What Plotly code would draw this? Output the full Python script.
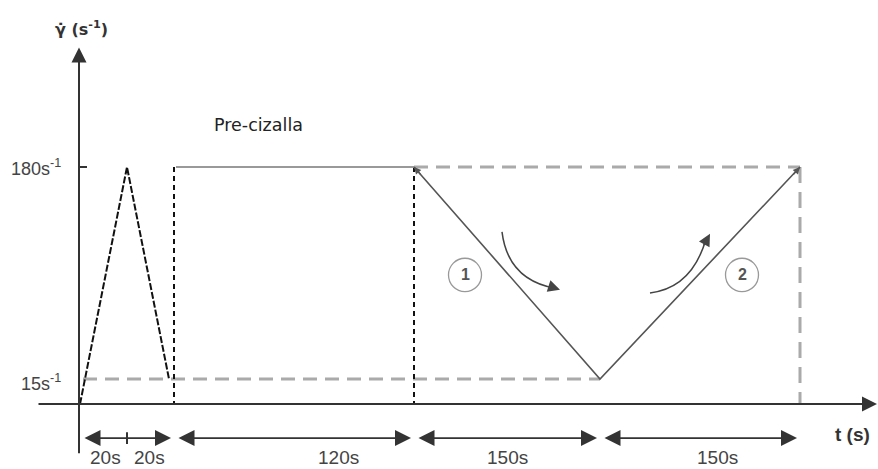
import plotly.graph_objects as go

# ---------------- data ----------------
rate_levels = [15, 180]                                   # shear-rate levels (s^-1)
rate_labels = ["15s<sup>-1</sup>", "180s<sup>-1</sup>"]
durations = [20, 20, 120, 150, 150]                       # stage durations (s)
duration_labels = ["20s", "20s", "120s", "150s", "150s"]
stage_labels = ["1", "2"]
preshear_label = "Pre-cizalla"
y_title = "<b>γ̇ (s<sup>-1</sup>)</b>"
x_title = "<b>t (s)</b>"

# ---------------- schematic layout (diagram is not to scale) ----------------
seg_edges = [0, 47, 94, 334, 520, 720]     # schematic x position of each stage edge
baseline = -4.5                            # where the time axis is drawn
label_x = [25, 69, 258, 427, 637]          # duration label positions
dim_y = -31
lab_y = -46

lo, hi = rate_levels
DARK = "#333333"
GRAY = "#aaaaaa"

fig = go.Figure()

def line(xs, ys, color, width, dash="solid"):
    fig.add_trace(go.Scatter(x=xs, y=ys, mode="lines", hoverinfo="skip",
                             line=dict(color=color, width=width, dash=dash),
                             showlegend=False))

# gray dashed guide lines
line([3, seg_edges[4]], [lo, lo], GRAY, 3, "14px,8px")
line([seg_edges[3], seg_edges[5]], [hi, hi], GRAY, 3, "14px,8px")
line([seg_edges[5], seg_edges[5]], [hi, baseline], GRAY, 3, "16px,9px")

# black dashed vertical separators
for xe in (seg_edges[2], seg_edges[3]):
    line([xe, xe], [hi, baseline], "#111111", 2, "5px,4px")

# first triangle (20 s up, 20 s down)
line([seg_edges[0], seg_edges[1], seg_edges[2] - 5], [baseline, hi, lo], "#111111", 2, "7px,2px")

# pre-shear plateau
line([seg_edges[2] + 2, seg_edges[3]], [hi, hi], "#999999", 2.2)

# ramps down (1) and up (2)
line([seg_edges[3], seg_edges[4], seg_edges[5]], [hi, lo, hi], "#555555", 1.6)

# tick at 180
line([-1, 7], [hi, hi], DARK, 2)

ann = []

def arrow(x, y, ax, ay, width=2, size=1.6, both=False, color=DARK):
    d = dict(x=x, y=y, ax=ax, ay=ay, xref="x", yref="y", axref="x", ayref="y",
             text="", showarrow=True, arrowhead=2, arrowsize=size, arrowwidth=width,
             arrowcolor=color, standoff=0, startstandoff=0)
    if both:
        d.update(arrowside="end+start", startarrowhead=2, startarrowsize=size)
    ann.append(d)

# axes
arrow(797, baseline, -43, baseline, width=2, size=1.5)
arrow(-1, 273, -1, -44, width=2, size=1.5)

# dimension arrows
arrow(seg_edges[2] - 3, dim_y, seg_edges[0] + 3, dim_y, width=1.6, size=2.0, both=True)
for i in range(2, 5):
    arrow(seg_edges[i + 1] - 3, dim_y, seg_edges[i] + 3, dim_y, width=1.6, size=2.0, both=True)
line([seg_edges[1], seg_edges[1]], [dim_y - 4.5, dim_y + 4.5], DARK, 2)

# small heads at the top ends of the ramps
arrow(seg_edges[3], hi, seg_edges[3] + 8, hi - 7, width=1.4, size=1.0, color="#555555")
arrow(seg_edges[5], hi, seg_edges[5] - 8, hi - 7, width=1.4, size=1.0, color="#555555")

# curved arrows
fig.add_shape(type="path", path="M 422,129.5 Q 428,92 476,85.5",
              line=dict(color="#444444", width=1.5), xref="x", yref="y")
arrow(480, 84.5, 468, 87.5, width=1.5, size=1.6, color="#444444")
fig.add_shape(type="path", path="M 570,82 Q 612,86 626,124",
              line=dict(color="#444444", width=1.5), xref="x", yref="y")
arrow(630, 128, 623, 118, width=1.5, size=1.6, color="#444444")

# numbered circles
for cx, lab in zip([385, 662], stage_labels):
    fig.add_shape(type="circle", x0=cx - 16.5, x1=cx + 16.5, y0=96 - 13, y1=96 + 13,
                  line=dict(color="#999999", width=1.3), xref="x", yref="y")
    ann.append(dict(x=cx, y=96, text="<b>" + lab + "</b>", showarrow=False,
                    font=dict(family="Liberation Sans, Arial", size=16, color="#555555")))

# texts
for lvl, lab, yy in zip(rate_levels, rate_labels, [12.5, 180]):
    ann.append(dict(x=-17, y=yy, text=lab, showarrow=False, xanchor="right",
                    font=dict(family="Liberation Sans, Arial", size=18, color="#444444")))
for xx, lab in zip(label_x, duration_labels):
    ann.append(dict(x=xx, y=lab_y, text=lab, showarrow=False,
                    font=dict(family="Liberation Sans, Arial", size=19, color="#444444")))
ann.append(dict(x=178, y=212.5, text=preshear_label, showarrow=False,
                font=dict(family="DejaVu Sans", size=17.5, color="#222222")))
ann.append(dict(x=772, y=-28.5, text=x_title, showarrow=False,
                font=dict(family="Liberation Sans, Arial", size=19, color="#333333")))
ann.append(dict(x=1, y=288, text=y_title, showarrow=False,
                font=dict(family="DejaVu Sans", size=16, color="#333333")))

fig.update_layout(
    width=878, height=469, margin=dict(l=0, r=0, t=0, b=0),
    plot_bgcolor="white", paper_bgcolor="white",
    xaxis=dict(range=[-80, 798], visible=False, fixedrange=True),
    yaxis=dict(range=[-55.05, 310.0], visible=False, fixedrange=True),
    annotations=ann, showlegend=False,
)

fig.write_html("out.html", config={"displayModeBar": False},
               post_script="document.body.style.margin='0';document.body.style.overflow='hidden';")
